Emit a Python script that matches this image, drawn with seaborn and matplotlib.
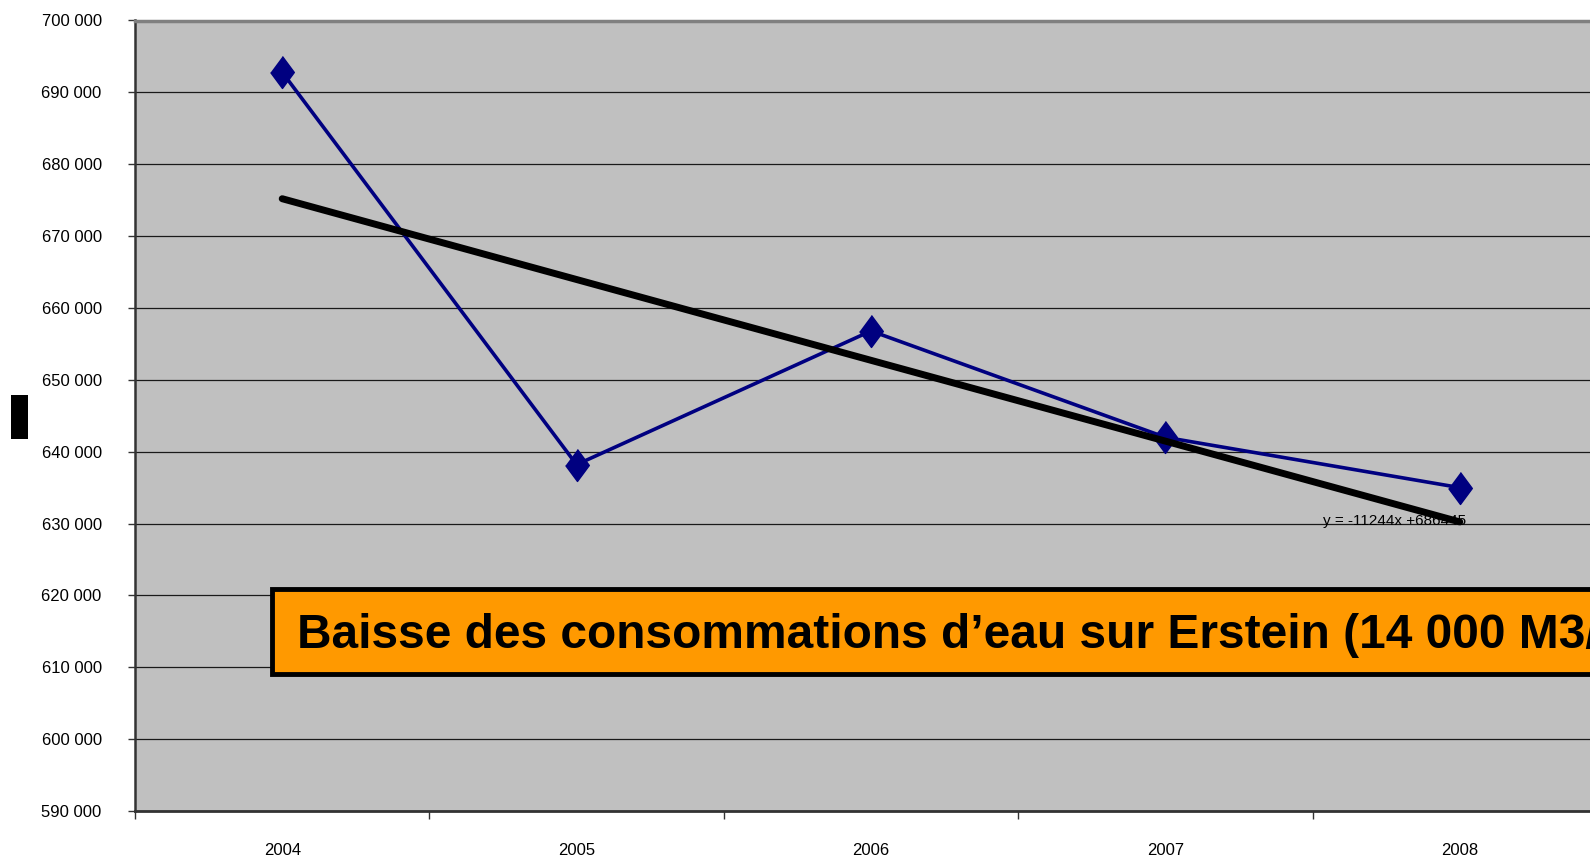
import matplotlib
matplotlib.use("Agg")
import matplotlib.pyplot as plt
import matplotlib.ticker as mticker
from matplotlib.patches import Rectangle
import seaborn as sns
import pandas as pd

years = ["2004", "2005", "2006", "2007", "2008"]
consommation = [692800, 638200, 656800, 642000, 635000]
trend_slope = -11244
trend_intercept = 686445
equation_label = "y = -11244x +686445"
banner_text = "Baisse des consommations d\u2019eau sur Erstein (14 000 M3/an)"
y_ticks = list(range(590000, 700001, 10000))

idx = list(range(len(years)))
df = pd.DataFrame({"i": idx, "v": consommation})
trend = pd.DataFrame({"i": idx, "v": [trend_intercept + trend_slope * (k + 1) for k in idx]})

W, H = 1590, 860
fig = plt.figure(figsize=(W / 100, H / 100), dpi=100)
fig.patch.set_facecolor("white")
ax_l, ax_r, ax_t, ax_b = 135, 1607, 20.5, 811
ax = fig.add_axes([ax_l / W, 1 - ax_b / H, (ax_r - ax_l) / W, (ax_b - ax_t) / H])
ax.set_facecolor("#C0C0C0")

fam = ["Liberation Sans Narrow", "Liberation Sans", "DejaVu Sans"]

sns.lineplot(data=df, x="i", y="v", ax=ax, color="#000080", linewidth=2.6,
             zorder=3)
ax.plot(df["i"], df["v"], linestyle="none",
        marker=[(0, 1), (0.74, 0), (0, -1), (-0.74, 0)], markersize=23,
        markeredgecolor="#000080", markerfacecolor="#000080", zorder=3.5)
sns.lineplot(data=trend, x="i", y="v", ax=ax, color="black", linewidth=5.0,
             solid_capstyle="round", zorder=4)

ax.set_xlim(-0.5, len(years) - 0.5)
ax.set_ylim(y_ticks[0], y_ticks[-1])
ax.set_yticks(y_ticks)
ax.yaxis.set_major_formatter(mticker.FuncFormatter(lambda v, p: f"{int(v):,}".replace(",", " ")))
ax.set_xticks(idx)
ax.set_xticklabels(years)
ax.set_xticks([k - 0.5 for k in range(len(years) + 1)], minor=True)
ax.tick_params(axis="x", which="major", length=0, pad=23)
ax.tick_params(axis="x", which="minor", length=6, width=1, color="#333333", direction="out")
ax.tick_params(axis="y", which="major", length=5, width=1, color="#333333", direction="out", pad=19)
for lab in ax.get_xticklabels() + ax.get_yticklabels():
    lab.set_family(fam)
    lab.set_fontsize(12)
ax.set_xlabel("")
ax.set_ylabel("")
ax.grid(axis="y", color="#1a1a1a", linewidth=0.9)
ax.grid(axis="x", visible=False)
ax.set_axisbelow(True)

ax.spines["left"].set_color("#333333")
ax.spines["left"].set_linewidth(1.8)
ax.spines["bottom"].set_color("#333333")
ax.spines["bottom"].set_linewidth(2.0)
ax.spines["top"].set_color("#808080")
ax.spines["top"].set_linewidth(2.5)
ax.spines["right"].set_visible(False)

ax.text(3.78, 630300, equation_label, fontsize=11, family=fam, ha="center", va="center", zorder=5)

# banner
bx0, by0, bx1, by1 = 272, 589, 1640, 674
fig.patches.append(Rectangle((bx0 / W, 1 - by1 / H), (bx1 - bx0) / W, (by1 - by0) / H,
                             transform=fig.transFigure, facecolor="#FF9900",
                             edgecolor="black", linewidth=3.5, zorder=10))
fig.text(297 / W, 1 - 636 / H, banner_text, fontsize=34.5, fontweight="bold",
         family=["Liberation Sans", "DejaVu Sans"], ha="left", va="center", zorder=11)

# small black block on the left
fig.patches.append(Rectangle((11 / W, 1 - 439 / H), 17 / W, 44 / H,
                             transform=fig.transFigure, facecolor="black", edgecolor="none"))

fig.savefig("out.png", dpi=100)
